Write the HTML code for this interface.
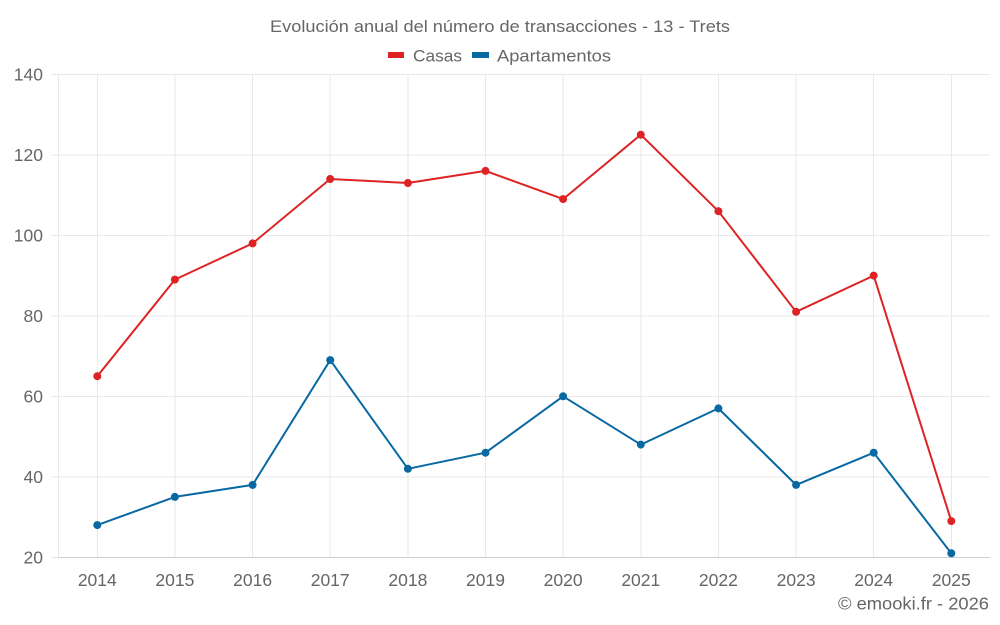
<!DOCTYPE html>
<html><head><meta charset="utf-8"><style>
html,body{margin:0;padding:0;background:#fff;}
svg{display:block;font-family:"Liberation Sans",Roboto,sans-serif;}
</style></head><body>
<svg width="1000" height="625" viewBox="0 0 1000 625" xmlns="http://www.w3.org/2000/svg">
<rect width="1000" height="625" fill="#fff"/>
<text x="500" y="32" font-size="17" fill="#666" text-anchor="middle" textLength="460" lengthAdjust="spacingAndGlyphs">Evolución anual del número de transacciones - 13 - Trets</text>
<rect x="388" y="52" width="16" height="6" fill="#dd2323"/>
<text x="413" y="61.5" font-size="17" fill="#666" textLength="49" lengthAdjust="spacingAndGlyphs">Casas</text>
<rect x="472" y="52" width="17" height="6" fill="#0868a2"/>
<text x="497" y="61.5" font-size="17" fill="#666" textLength="114" lengthAdjust="spacingAndGlyphs">Apartamentos</text>
<g stroke="#e8e8e8" stroke-width="1" shape-rendering="crispEdges">
<line x1="58" y1="74.5" x2="990" y2="74.5"/>
<line x1="58" y1="155" x2="990" y2="155"/>
<line x1="58" y1="235.5" x2="990" y2="235.5"/>
<line x1="58" y1="316" x2="990" y2="316"/>
<line x1="58" y1="396.5" x2="990" y2="396.5"/>
<line x1="58" y1="477" x2="990" y2="477"/>
<line x1="58.5" y1="74" x2="58.5" y2="557"/>
<line x1="97.5" y1="74" x2="97.5" y2="557"/>
<line x1="175" y1="74" x2="175" y2="557"/>
<line x1="252.5" y1="74" x2="252.5" y2="557"/>
<line x1="330" y1="74" x2="330" y2="557"/>
<line x1="408" y1="74" x2="408" y2="557"/>
<line x1="485.5" y1="74" x2="485.5" y2="557"/>
<line x1="563" y1="74" x2="563" y2="557"/>
<line x1="641" y1="74" x2="641" y2="557"/>
<line x1="718.5" y1="74" x2="718.5" y2="557"/>
<line x1="796" y1="74" x2="796" y2="557"/>
<line x1="873.5" y1="74" x2="873.5" y2="557"/>
<line x1="951.5" y1="74" x2="951.5" y2="557"/>
<line x1="51" y1="74.5" x2="58" y2="74.5"/>
<line x1="51" y1="155" x2="58" y2="155"/>
<line x1="51" y1="235.5" x2="58" y2="235.5"/>
<line x1="51" y1="316" x2="58" y2="316"/>
<line x1="51" y1="396.5" x2="58" y2="396.5"/>
<line x1="51" y1="477" x2="58" y2="477"/>
<line x1="51" y1="557.5" x2="58" y2="557.5"/>
</g>
<line x1="58" y1="557.5" x2="990" y2="557.5" stroke="#d0d0d0" stroke-width="1" shape-rendering="crispEdges"/>
<g font-size="17.5" fill="#666" text-anchor="end">
<text x="43" y="80.5">140</text>
<text x="43" y="161">120</text>
<text x="43" y="241.5">100</text>
<text x="43" y="322">80</text>
<text x="43" y="402.5">60</text>
<text x="43" y="483">40</text>
<text x="43" y="563.5">20</text>
</g>
<g font-size="17.5" fill="#666" text-anchor="middle">
<text x="97.3" y="586">2014</text>
<text x="174.9" y="586">2015</text>
<text x="252.6" y="586">2016</text>
<text x="330.2" y="586">2017</text>
<text x="407.9" y="586">2018</text>
<text x="485.5" y="586">2019</text>
<text x="563.1" y="586">2020</text>
<text x="640.8" y="586">2021</text>
<text x="718.4" y="586">2022</text>
<text x="796.1" y="586">2023</text>
<text x="873.7" y="586">2024</text>
<text x="951.3" y="586">2025</text>
</g>
<text x="989" y="609.5" font-size="17.5" fill="#666" text-anchor="end" textLength="151" lengthAdjust="spacingAndGlyphs">© emooki.fr - 2026</text>
<polyline fill="none" stroke="#dd2323" stroke-width="2" stroke-linejoin="round" points="97.3,376.2 174.9,279.6 252.6,243.4 330.2,179 407.9,183 485.5,170.9 563.1,199.1 640.8,134.7 718.4,211.2 796.1,311.8 873.7,275.6 951.3,521.1"/>
<g fill="#dd2323">
<circle cx="97.3" cy="376.2" r="4"/><circle cx="174.9" cy="279.6" r="4"/><circle cx="252.6" cy="243.4" r="4"/><circle cx="330.2" cy="179" r="4"/><circle cx="407.9" cy="183" r="4"/><circle cx="485.5" cy="170.9" r="4"/><circle cx="563.1" cy="199.1" r="4"/><circle cx="640.8" cy="134.7" r="4"/><circle cx="718.4" cy="211.2" r="4"/><circle cx="796.1" cy="311.8" r="4"/><circle cx="873.7" cy="275.6" r="4"/><circle cx="951.3" cy="521.1" r="4"/>
</g>
<polyline fill="none" stroke="#0868a2" stroke-width="2" stroke-linejoin="round" points="97.3,525.1 174.9,496.9 252.6,484.9 330.2,360.1 407.9,468.8 485.5,452.7 563.1,396.3 640.8,444.6 718.4,408.4 796.1,484.9 873.7,452.7 951.3,553.3"/>
<g fill="#0868a2">
<circle cx="97.3" cy="525.1" r="4"/><circle cx="174.9" cy="496.9" r="4"/><circle cx="252.6" cy="484.9" r="4"/><circle cx="330.2" cy="360.1" r="4"/><circle cx="407.9" cy="468.8" r="4"/><circle cx="485.5" cy="452.7" r="4"/><circle cx="563.1" cy="396.3" r="4"/><circle cx="640.8" cy="444.6" r="4"/><circle cx="718.4" cy="408.4" r="4"/><circle cx="796.1" cy="484.9" r="4"/><circle cx="873.7" cy="452.7" r="4"/><circle cx="951.3" cy="553.3" r="4"/>
</g>
</svg>
</body></html>
